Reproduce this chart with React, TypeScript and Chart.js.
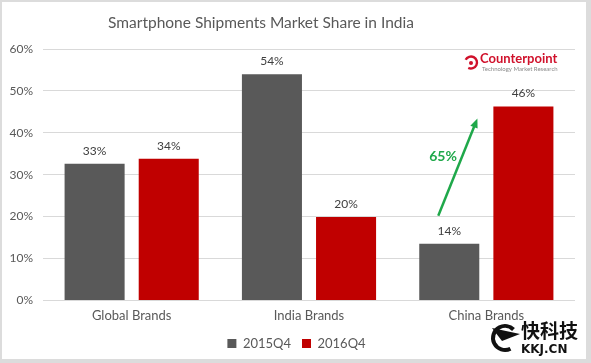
import React, { useEffect, useRef } from "react";
import { Chart, registerables } from "chart.js";

Chart.register(...registerables);

const categories = ["Global Brands", "India Brands", "China Brands"];
const series2015 = [32.6, 54.0, 13.5];
const series2016 = [33.8, 19.9, 46.3];
const labels2015 = ["33%", "54%", "14%"];
const labels2016 = ["34%", "20%", "46%"];
const seriesNames = ["2015Q4", "2016Q4"];
const yTicks = [0, 10, 20, 30, 40, 50, 60];
const growthLabel = "65%";

const FONT = "Lato, 'Open Sans', sans-serif";
const GRAY = "#595959";
const RED = "#c00000";
const GREEN = "#1fa84a";

const decor = {
  id: "decor",
  afterLayout(chart: any) {
    const lg = chart.legend;
    if (lg) {
      lg.left += 9;
      lg.right += 9;
      lg.top += 2;
      lg.bottom += 2;
    }
  },
  beforeDraw(chart: any) {
    const { ctx, width, height } = chart;
    ctx.save();
    ctx.fillStyle = "#dcdcdc";
    ctx.fillRect(0, 0, width, height);
    ctx.fillStyle = "#ffffff";
    ctx.fillRect(2, 2, 584, 357);
    ctx.restore();
  },
  afterDraw(chart: any) {
    const { ctx } = chart;
    const y = chart.scales.y;
    ctx.save();
    // title
    ctx.fillStyle = GRAY;
    ctx.font = `15.5px ${FONT}`;
    ctx.textAlign = "center";
    ctx.textBaseline = "middle";
    ctx.fillText("Smartphone Shipments Market Share in India", 261, 23);

    // data labels
    ctx.font = `12px ${FONT}`;
    ctx.fillStyle = "#404040";
    ctx.textBaseline = "bottom";
    [0, 1].forEach((di) => {
      const meta = chart.getDatasetMeta(di);
      const labs = di === 0 ? labels2015 : labels2016;
      meta.data.forEach((bar: any, i: number) => {
        ctx.fillText(labs[i], bar.x, bar.y - 7);
      });
    });

    // arrow
    const m0 = chart.getDatasetMeta(0).data[2];
    const m1 = chart.getDatasetMeta(1).data[2];
    const x0 = m0.x - 11;
    const y0 = y.getPixelForValue(20.2);
    const x1 = m1.x - 46;
    const y1 = y.getPixelForValue(43.4);
    ctx.strokeStyle = GREEN;
    ctx.fillStyle = GREEN;
    ctx.lineWidth = 2.5;
    const ang = Math.atan2(y1 - y0, x1 - x0);
    const hl = 10;
    ctx.beginPath();
    ctx.moveTo(x0, y0);
    ctx.lineTo(x1 - Math.cos(ang) * hl * 0.7, y1 - Math.sin(ang) * hl * 0.7);
    ctx.stroke();
    ctx.beginPath();
    ctx.moveTo(x1, y1);
    ctx.lineTo(x1 - hl * Math.cos(ang - 0.4), y1 - hl * Math.sin(ang - 0.4));
    ctx.lineTo(x1 - hl * Math.cos(ang + 0.4), y1 - hl * Math.sin(ang + 0.4));
    ctx.closePath();
    ctx.fill();
    ctx.font = `bold 14px ${FONT}`;
    ctx.textAlign = "center";
    ctx.textBaseline = "middle";
    ctx.fillText(growthLabel, 443, 156);

    // Counterpoint logo
    ctx.strokeStyle = "#d0112b";
    ctx.lineWidth = 2.4;
    ctx.beginPath();
    ctx.arc(471, 62.5, 6, -0.85 * Math.PI, 0.65 * Math.PI);
    ctx.stroke();
    ctx.fillStyle = "#d0112b";
    ctx.beginPath();
    ctx.arc(471, 63, 2, 0, Math.PI * 2);
    ctx.fill();
    ctx.font = `bold 13px ${FONT}`;
    ctx.textAlign = "left";
    ctx.textBaseline = "middle";
    ctx.fillText("Counterpoint", 480, 59);
    ctx.fillStyle = "#8a8a8a";
    ctx.font = `6px ${FONT}`;
    ctx.fillText("Technology Market Research", 482, 69);

    // watermark
    ctx.fillStyle = "#111";
    ctx.beginPath();
    ctx.arc(505, 338, 12, 0.35 * Math.PI, 1.75 * Math.PI);
    ctx.lineWidth = 4;
    ctx.strokeStyle = "#111";
    ctx.stroke();
    ctx.beginPath();
    ctx.moveTo(492, 328);
    ctx.lineTo(520, 334);
    ctx.lineTo(502, 341);
    ctx.closePath();
    ctx.fill();
    ctx.font = `bold 19px 'Noto Sans CJK SC', sans-serif`;
    ctx.textAlign = "left";
    ctx.textBaseline = "middle";
    ctx.fillText("快科技", 521, 331);
    ctx.font = `bold 12px 'DejaVu Sans', sans-serif`;
    ctx.fillText("KKJ.CN", 521, 350);
    ctx.restore();
  },
};

export default function App() {
  const ref = useRef<HTMLCanvasElement>(null);
  useEffect(() => {
    document.body.style.margin = "0";
    const chart = new Chart(ref.current!, {
      type: "bar",
      data: {
        labels: categories,
        datasets: [
          { label: seriesNames[0], data: series2015, backgroundColor: GRAY },
          { label: seriesNames[1], data: series2016, backgroundColor: RED },
        ],
      },
      options: {
        responsive: false,
        animation: false,
        devicePixelRatio: 1,
        layout: { padding: { top: 49, right: 16, left: 0, bottom: 5 } },
        datasets: { bar: { barPercentage: 0.81, categoryPercentage: 0.836 } },
        scales: {
          x: {
            grid: { display: false },
            border: { display: false },
            ticks: { color: GRAY, font: { family: FONT, size: 13 }, padding: 0 },
          },
          y: {
            min: 0,
            max: 60,
            afterBuildTicks(scale: any) {
              scale.ticks = yTicks.map((v) => ({ value: v }));
            },
            afterFit(scale: any) {
              scale.width = 43;
            },
            grid: { color: "#d9d9d9", drawTicks: false, lineWidth: 1 },
            border: { display: false },
            ticks: {
              color: GRAY,
              font: { family: FONT, size: 12 },
              padding: 10,
              callback: (v: any) => `${v}%`,
            },
          },
        },
        plugins: {
          title: { display: false },
          tooltip: { enabled: false },
          legend: {
            position: "bottom",
            labels: {
              color: GRAY,
              font: { family: FONT, size: 13 },
              boxWidth: 9,
              boxHeight: 9,
              padding: 11,
            },
          },
        },
      },
      plugins: [decor],
    });
    return () => chart.destroy();
  }, []);
  return (
    <div style={{ position: "absolute", left: 0, top: 0, width: 591, height: 363 }}>
      <canvas ref={ref} width={591} height={363} style={{ width: 591, height: 363 }} />
    </div>
  );
}
